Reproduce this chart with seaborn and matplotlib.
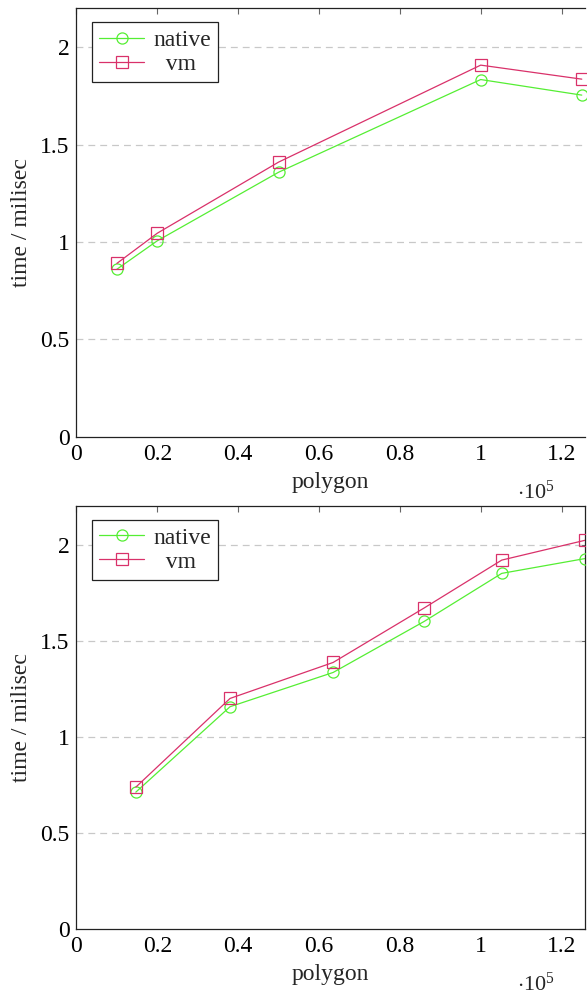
import matplotlib
matplotlib.use("Agg")
import matplotlib.pyplot as plt
import seaborn as sns
import pandas as pd
from matplotlib.lines import Line2D
from matplotlib.ticker import FuncFormatter

# ---- data ----
top_polygon = [10000, 20000, 50000, 100000, 125000]
top_native = [0.86, 1.006, 1.358, 1.834, 1.754]
top_vm = [0.89, 1.045, 1.41, 1.908, 1.836]

bot_polygon = [14700, 38000, 63500, 86000, 105200, 125800]
bot_native = [0.713, 1.157, 1.335, 1.60, 1.85, 1.927]
bot_vm = [0.739, 1.20, 1.387, 1.67, 1.919, 2.022]

series_names = ["native", "vm"]
x_ticks = [0, 20000, 40000, 60000, 80000, 100000, 120000]
y_ticks = [0, 0.5, 1, 1.5, 2]

# ---- style ----
sns.set_theme(style="white")
plt.rcParams["font.family"] = ["Liberation Serif", "DejaVu Serif"]
plt.rcParams["mathtext.fontset"] = "custom"
plt.rcParams["mathtext.rm"] = "Liberation Serif"
plt.rcParams["mathtext.it"] = "Liberation Serif:italic"

GREEN = "#55ee33"
RED = "#d9316a"
FS = 17

fig = plt.figure(figsize=(5.87, 9.94), dpi=100)
ax_top = fig.add_axes([0.1302, 0.5606, 0.8664, 0.4311])
ax_bot = fig.add_axes([0.1302, 0.0651, 0.8664, 0.4258])


def draw(ax, xs, nat, vm, hide_right):
    df_n = pd.DataFrame({"polygon": xs, "time": nat})
    df_v = pd.DataFrame({"polygon": xs, "time": vm})
    sns.lineplot(data=df_n, x="polygon", y="time", ax=ax, color=GREEN, lw=0.9,
                 marker="o", markersize=8, markerfacecolor="none",
                 markeredgecolor=GREEN, markeredgewidth=0.9, clip_on=not hide_right,
                 zorder=3)
    sns.lineplot(data=df_v, x="polygon", y="time", ax=ax, color=RED, lw=0.9,
                 marker="s", markersize=8, markerfacecolor="none",
                 markeredgecolor=RED, markeredgewidth=0.9, clip_on=not hide_right,
                 zorder=3)
    ax.set_xlim(0, 125800)
    ax.set_ylim(0, 2.2)
    ax.set_xticks(x_ticks)
    ax.set_yticks(y_ticks)
    ax.xaxis.set_major_formatter(FuncFormatter(lambda v, p: f"{v/1e5:g}"))
    ax.yaxis.set_major_formatter(FuncFormatter(lambda v, p: f"{v:g}"))
    for yv in y_ticks[1:]:
        ax.axhline(yv, color="#c8c8c8", lw=0.9, ls=(0, (5.5, 4)), zorder=1)
    ax.tick_params(axis="both", direction="in", length=4, width=0.8,
                   color="#666666", labelsize=FS, pad=5, top=True,
                   right=not hide_right, labelcolor="black")
    for s in ax.spines.values():
        s.set_color("#222222")
        s.set_linewidth(0.9)
    if hide_right:
        ax.spines["right"].set_visible(False)
    ax.set_xlabel("polygon", fontsize=FS, labelpad=5)
    ax.set_ylabel("time / milisec", fontsize=FS, labelpad=6)
    handles = [
        Line2D([], [], color=GREEN, lw=0.9, marker="o", markersize=8,
               markerfacecolor="none", markeredgecolor=GREEN, markeredgewidth=0.9),
        Line2D([], [], color=RED, lw=0.9, marker="s", markersize=8,
               markerfacecolor="none", markeredgecolor=RED, markeredgewidth=0.9),
    ]
    leg = ax.legend(handles, [series_names[0], "  " + series_names[1]],
                    loc="upper left", bbox_to_anchor=(0.031, 0.967),
                    borderaxespad=0, fontsize=FS, frameon=True, fancybox=False,
                    edgecolor="#222222", handlelength=1.9, handletextpad=0.4,
                    borderpad=0.3, labelspacing=0.1, framealpha=1)
    leg.get_frame().set_linewidth(0.9)
    ax.text(0.94, -0.13, r"$\cdot10^{5}$", transform=ax.transAxes, ha="right",
            va="center", fontsize=FS - 1)


draw(ax_top, top_polygon, top_native, top_vm, True)
draw(ax_bot, bot_polygon, bot_native, bot_vm, False)

fig.savefig("out.png", dpi=100)
